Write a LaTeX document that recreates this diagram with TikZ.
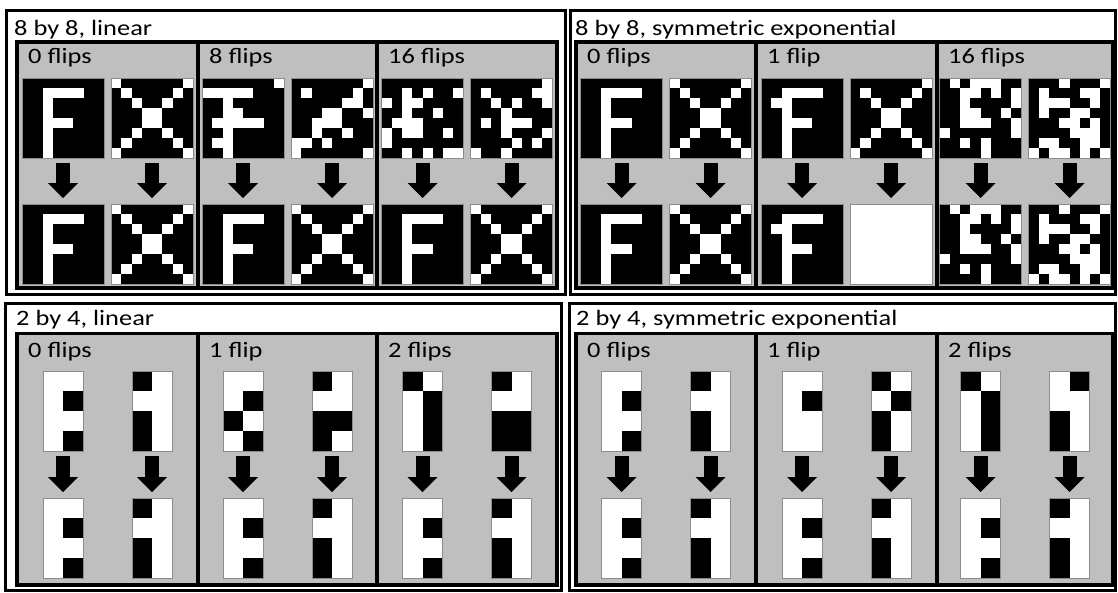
\documentclass[tikz,border=0pt]{standalone}
\usepackage{fontspec}
\setmainfont{Carlito}[FakeStretch=1.2]
\usepackage{tikz}
\usetikzlibrary{arrows.meta,calc}

\definecolor{panelgray}{RGB}{191,191,191}

% white cells (row/col) of the 8x8 patterns
\def\Fbig{1/2,1/3,1/4,1/5,2/2,3/2,4/2,4/3,4/4,5/2,6/2,7/2}
\def\Xbig{0/0,0/7,1/1,1/6,2/2,2/5,3/3,3/4,4/3,4/4,5/2,5/5,6/1,6/6,7/0,7/7}
\def\Fnoise{0/1,0/3,0/4,0/5,1/2,1/3,1/5,1/7,2/2,2/7,3/2,3/3,3/6,4/2,4/3,4/4,4/7,5/0,5/7,6/2,6/4,7/4}
\def\Xnoise{0/3,0/7,1/1,1/5,1/6,2/1,2/2,2/3,2/6,3/1,3/4,3/5,4/3,4/4,4/6,5/4,5/5,5/6,6/1,6/2,6/5,6/6,7/0,7/2,7/3,7/5,7/7}
% black cells (row/col) of the 2x4 patterns
\def\Fsmall{1/1,3/1}
\def\Hsmall{0/0,2/0,3/0}
\def\allwhite{all}

% 8x8 bitmap: black ground, white cells
\newcommand{\bigbitmap}[3]{%
  \edef\bmpcells{#3}%
  \ifx\bmpcells\allwhite
    \node[bigbmp, fill=white] (#1) at (#2) {};
  \else
    \node[bigbmp] (#1) at (#2) {};
    \foreach \rr/\cc in \bmpcells
      \fill[white] ($(#1.north west)+(\cc*10.25,\rr*10)$) rectangle ++(10.25,10);
  \fi
  \draw[bmpedge] (#1.north west) rectangle (#1.south east);
}

% 2x4 bitmap: white ground, black cells
\newcommand{\smallbitmap}[3]{%
  \node[smallbmp] (#1) at (#2) {};
  \edef\bmpcells{#3}%
  \foreach \rr/\cc in \bmpcells
    \fill[black] ($(#1.north west)+(\cc*20,\rr*20)$) rectangle ++(20,20);
  \draw[bmpedge] (#1.north west) rectangle (#1.south east);
}

% grey column: id, left, right, label, inputs, outputs
\newcommand{\bigcolumn}[8]{%
  \draw[subpanel] (#2,42) rectangle (#3,288);
  \node[heading] (#1lbl) at (#2+11,63) {#4};
  \bigbitmap{#1in1}{#2/2+#3/2-44.5,118}{#5}
  \bigbitmap{#1in2}{#2/2+#3/2+44.5,118}{#6}
  \bigbitmap{#1out1}{#2/2+#3/2-44.5,244}{#7}
  \bigbitmap{#1out2}{#2/2+#3/2+44.5,244}{#8}
  \draw[bigarrow] (#1in1) -- (#1out1);
  \draw[bigarrow] (#1in2) -- (#1out2);
}
\newcommand{\smallcolumn}[8]{%
  \draw[subpanel] (#2,333.5) rectangle (#3,585);
  \node[heading] (#1lbl) at (#2+11,357) {#4};
  \smallbitmap{#1in1}{#2/2+#3/2-44.5,411}{#5}
  \smallbitmap{#1in2}{#2/2+#3/2+44.5,411}{#6}
  \smallbitmap{#1out1}{#2/2+#3/2-44.5,538}{#7}
  \smallbitmap{#1out2}{#2/2+#3/2+44.5,538}{#8}
  \draw[bigarrow] (#1in1) -- (#1out1);
  \draw[bigarrow] (#1in2) -- (#1out2);
}

\begin{document}
\begin{tikzpicture}[x=1pt, y=-1pt,
    frame/.style={draw=black, line width=3pt},
    subpanel/.style={draw=black, line width=3.5pt, fill=panelgray},
    bigbmp/.style={rectangle, fill=black, inner sep=0pt, outer sep=0pt, minimum width=82pt, minimum height=80pt},
    smallbmp/.style={rectangle, fill=white, inner sep=0pt, outer sep=0pt, minimum width=40pt, minimum height=80pt},
    bmpedge/.style={draw=black!45, line width=0.8pt},
    bigarrow/.style={line width=14pt, -{Triangle[length=15pt, width=30pt, line width=0pt]}, shorten <=5pt, shorten >=6pt},
    heading/.style={anchor=base west, inner sep=0pt, font=\fontsize{22}{26}\selectfont}]
    \useasboundingbox (0,0) rectangle (1118,592);

    % Outer frames with titles
    \draw[frame] (6.5,10) rectangle (565,294);
    \draw[frame] (570,10) rectangle (1115,294);
    \draw[frame] (5,303) rectangle (561,590);
    \draw[frame] (569,303) rectangle (1115,590);
    \node[heading] (title88lin) at (14,35) {8 by 8, linear};
    \node[heading] (title88exp) at (575,35) {8 by 8, symmetric exponential};
    \node[heading] (title24lin) at (16,325) {2 by 4, linear};
    \node[heading] (title24exp) at (576,325) {2 by 4, symmetric exponential};

    % 8 by 8, linear
    \bigcolumn{la}{17}{198}{0 flips}{\Fbig}{\Xbig}{\Fbig}{\Xbig}
    \bigcolumn{lb}{198}{377}{8 flips}%
      {0/7,1/0,1/1,1/2,1/3,1/4,2/2,3/2,3/3,4/1,4/2,4/3,4/4,4/5,5/2,6/1,6/2,7/2}%
      {0/7,1/1,1/6,2/5,2/6,3/3,3/4,3/7,4/2,4/3,4/4,5/2,5/5,6/0,6/1,6/3,7/0,7/7}%
      {\Fbig}{\Xbig}
    \bigcolumn{lc}{377}{557}{16 flips}%
      {1/2,1/4,1/7,2/0,2/2,2/3,3/2,3/5,4/1,4/2,4/3,5/0,5/2,5/3,5/6,6/0,7/2,7/4,7/6,7/7}%
      {0/7,1/1,1/6,1/7,2/2,2/4,2/7,3/3,4/1,4/3,4/4,4/5,5/3,5/7,6/4,6/6,7/0,7/3}%
      {\Fbig}{\Xbig}

    % 8 by 8, symmetric exponential
    \bigcolumn{sa}{576}{756}{0 flips}{\Fbig}{\Xbig}{\Fbig}{\Xbig}
    \bigcolumn{sb}{756}{937}{1 flip}%
      {\Fbig,2/1}%
      {0/7,1/1,1/6,2/2,2/5,3/3,3/4,4/3,4/4,5/2,5/5,6/1,6/6,7/0,7/7}%
      {\Fbig,2/1}{all}
    \bigcolumn{sc}{937}{1113}{16 flips}{\Fnoise}{\Xnoise}{\Fnoise}{\Xnoise}

    % 2 by 4, linear
    \smallcolumn{ta}{17}{198}{0 flips}{\Fsmall}{\Hsmall}{\Fsmall}{\Hsmall}
    \smallcolumn{tb}{198}{377}{1 flip}{1/1,2/0,3/1}{0/0,2/0,2/1,3/0}{\Fsmall}{\Hsmall}
    \smallcolumn{tc}{377}{557}{2 flips}{0/0,1/1,2/1,3/1}{0/0,2/0,2/1,3/0,3/1}{\Fsmall}{\Hsmall}

    % 2 by 4, symmetric exponential
    \smallcolumn{ua}{576}{756}{0 flips}{\Fsmall}{\Hsmall}{\Fsmall}{\Hsmall}
    \smallcolumn{ub}{756}{937}{1 flip}{1/1}{0/0,1/1,2/0,3/0}{\Fsmall}{\Hsmall}
    \smallcolumn{uc}{937}{1113}{2 flips}{0/0,1/1,2/1,3/1}{0/1,2/0,3/0}{\Fsmall}{\Hsmall}
\end{tikzpicture}
\end{document}
